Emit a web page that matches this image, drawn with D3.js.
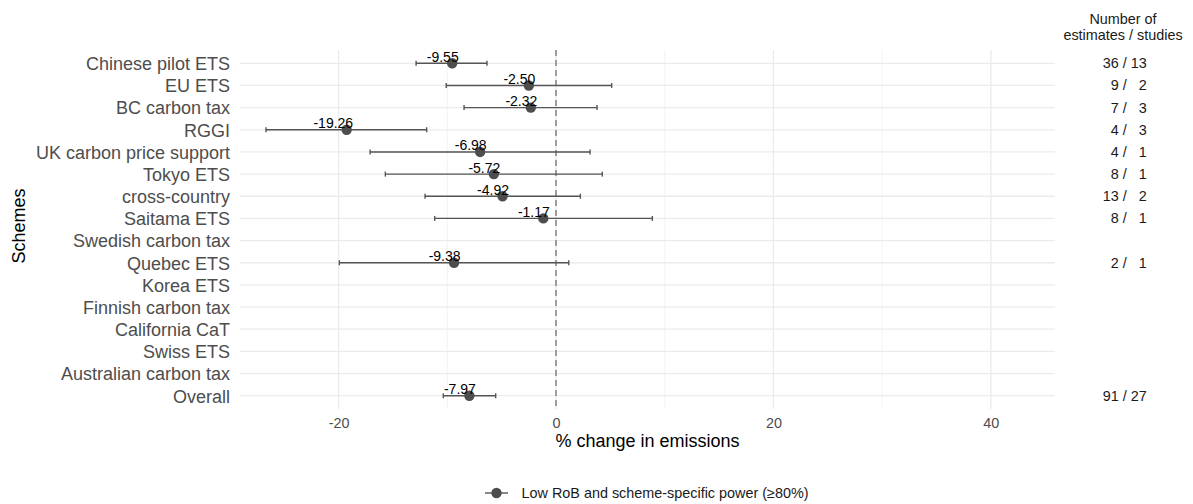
<!DOCTYPE html>
<html>
<head>
<meta charset="utf-8">
<script src="https://cdn.jsdelivr.net/npm/d3@7"></script>
<style>
  body { margin: 0; background: #fff; }
  svg { font-family: "Liberation Sans", Arial, sans-serif; }
</style>
</head>
<body>
<script>
// schemes, top to bottom
var schemes = ["Chinese pilot ETS", "EU ETS", "BC carbon tax", "RGGI", "UK carbon price support",
    "Tokyo ETS", "cross-country", "Saitama ETS", "Swedish carbon tax", "Quebec ETS", "Korea ETS",
    "Finnish carbon tax", "California CaT", "Swiss ETS", "Australian carbon tax", "Overall"];

// point estimates and interval bounds (% change)
var estimates = [-9.55, -2.50, -2.32, -19.26, -6.98, -5.72, -4.92, -1.17, null, -9.38, null, null, null, null, null, -7.97];
var lower = [-12.87, -10.1, -8.46, -26.68, -17.1, -15.7, -12.05, -11.16, null, -19.93, null, null, null, null, null, -10.37];
var upper = [-6.35, 5.12, 3.77, -11.9, 3.13, 4.26, 2.24, 8.86, null, 1.17, null, null, null, null, null, -5.55];

// number of estimates / studies
var nEstimates = [36, 9, 7, 4, 4, 8, 13, 8, null, 2, null, null, null, null, null, 91];
var nStudies = [13, 2, 3, 3, 1, 1, 2, 1, null, 1, null, null, null, null, null, 27];

var xTicks = [-20, 0, 20, 40];
var xMinor = [-10, 10, 30];

var w = 1193, h = 504;
var panel = {left: 240, right: 1055, top: 50, bottom: 409};
var small = "14.4px", big = "18px";

var data = schemes.map(function(s, i){
    return {scheme: s, est: estimates[i], lo: lower[i], hi: upper[i], ne: nEstimates[i], ns: nStudies[i]};
});

var svg = d3.select("body").append("svg")
    .attr("width", w)
    .attr("height", h);

// scales
var xScale = d3.scaleLinear().domain([-29.07, 45.9]).range([panel.left, panel.right]);
var yScale = d3.scalePoint().domain(schemes).range([panel.top, panel.bottom]).padding(0.6);

var grid = svg.append("g");

// minor gridlines
grid.selectAll("line.minor")
    .data(xMinor)
    .enter().append("line")
    .attr("x1", function(d){ return xScale(d); })
    .attr("x2", function(d){ return xScale(d); })
    .attr("y1", panel.top).attr("y2", panel.bottom)
    .attr("stroke", "#f0f0f0").attr("stroke-width", 0.8);

// major gridlines
grid.selectAll("line.vmajor")
    .data(xTicks)
    .enter().append("line")
    .attr("x1", function(d){ return xScale(d); })
    .attr("x2", function(d){ return xScale(d); })
    .attr("y1", panel.top).attr("y2", panel.bottom)
    .attr("stroke", "#ebebeb").attr("stroke-width", 1.3);

grid.selectAll("line.hmajor")
    .data(schemes)
    .enter().append("line")
    .attr("x1", panel.left).attr("x2", panel.right)
    .attr("y1", function(d){ return yScale(d); })
    .attr("y2", function(d){ return yScale(d); })
    .attr("stroke", "#ebebeb").attr("stroke-width", 1.3);

// zero reference line
svg.append("line")
    .attr("x1", xScale(0)).attr("x2", xScale(0))
    .attr("y1", panel.top).attr("y2", panel.bottom)
    .attr("stroke", "#7a7a7a").attr("stroke-width", 1.4)
    .attr("stroke-dasharray", "6,4");

// y axis labels
var yAxis = d3.axisLeft(yScale).tickSize(0).tickPadding(10);
var gy = svg.append("g")
    .attr("transform", "translate(" + panel.left + ",0)")
    .call(yAxis);
gy.select(".domain").remove();
gy.selectAll("text")
    .attr("dy", "0.35em")
    .attr("font-size", big)
    .attr("fill", "#4d4d4d")
    .attr("font-family", "Liberation Sans, Arial, sans-serif");

// x axis labels
var xAxis = d3.axisBottom(xScale).tickValues(xTicks).tickSize(0).tickPadding(8)
    .tickFormat(function(d){ return String(d); });
var gx = svg.append("g")
    .attr("transform", "translate(0," + panel.bottom + ")")
    .call(xAxis);
gx.select(".domain").remove();
gx.selectAll("text")
    .attr("y", 19).attr("dy", 0)
    .attr("font-size", small)
    .attr("fill", "#4d4d4d")
    .attr("font-family", "Liberation Sans, Arial, sans-serif");

var withVal = data.filter(function(d){ return d.est !== null; });

// error bars
var bars = svg.append("g").selectAll("g")
    .data(withVal)
    .enter().append("g");

bars.append("line")
    .attr("x1", function(d){ return xScale(d.lo); })
    .attr("x2", function(d){ return xScale(d.hi); })
    .attr("y1", function(d){ return yScale(d.scheme); })
    .attr("y2", function(d){ return yScale(d.scheme); })
    .attr("stroke", "#555555").attr("stroke-width", 1.4);

bars.append("line")
    .attr("x1", function(d){ return xScale(d.lo); })
    .attr("x2", function(d){ return xScale(d.lo); })
    .attr("y1", function(d){ return yScale(d.scheme) - 2.5; })
    .attr("y2", function(d){ return yScale(d.scheme) + 2.5; })
    .attr("stroke", "#555555").attr("stroke-width", 1.4);

bars.append("line")
    .attr("x1", function(d){ return xScale(d.hi); })
    .attr("x2", function(d){ return xScale(d.hi); })
    .attr("y1", function(d){ return yScale(d.scheme) - 2.5; })
    .attr("y2", function(d){ return yScale(d.scheme) + 2.5; })
    .attr("stroke", "#555555").attr("stroke-width", 1.4);

// points
bars.append("circle")
    .attr("cx", function(d){ return xScale(d.est); })
    .attr("cy", function(d){ return yScale(d.scheme); })
    .attr("r", 5.2)
    .attr("fill", "#4d4d4d");

// value labels
bars.append("text")
    .attr("x", function(d){ return xScale(d.est) + 6.5; })
    .attr("y", function(d){ return yScale(d.scheme) - 1.5; })
    .attr("text-anchor", "end")
    .attr("font-size", "14px")
    .attr("fill", "#000")
    .text(function(d){ return d.est.toFixed(2); });

// counts column
var colX = 1123;
svg.append("text")
    .attr("x", colX).attr("y", 24)
    .attr("text-anchor", "middle")
    .attr("font-size", small).attr("fill", "#1a1a1a")
    .text("Number of");
svg.append("text")
    .attr("x", colX).attr("y", 40)
    .attr("text-anchor", "middle")
    .attr("font-size", small).attr("fill", "#1a1a1a")
    .text("estimates / studies");

var slashX = 1124.7;
var counts = svg.append("g").selectAll("g")
    .data(data.filter(function(d){ return d.ne !== null; }))
    .enter().append("g")
    .attr("transform", function(d){ return "translate(" + slashX + "," + (yScale(d.scheme) + 5) + ")"; });

counts.append("text")
    .attr("x", -6).attr("text-anchor", "end")
    .attr("font-size", small).attr("fill", "#1a1a1a")
    .text(function(d){ return d.ne; });
counts.append("text")
    .attr("x", 0).attr("text-anchor", "middle")
    .attr("font-size", small).attr("fill", "#1a1a1a")
    .text("/");
counts.append("text")
    .attr("x", 22).attr("text-anchor", "end")
    .attr("font-size", small).attr("fill", "#1a1a1a")
    .text(function(d){ return d.ns; });

// axis titles
svg.append("text")
    .attr("x", (panel.left + panel.right) / 2)
    .attr("y", 447)
    .attr("text-anchor", "middle")
    .attr("font-size", big).attr("fill", "#000")
    .text("% change in emissions");

svg.append("text")
    .attr("transform", "translate(25,226) rotate(-90)")
    .attr("text-anchor", "middle")
    .attr("font-size", big).attr("fill", "#000")
    .text("Schemes");

// legend
var lg = svg.append("g").attr("transform", "translate(496.5,493)");
lg.append("line").attr("x1", -11.5).attr("x2", 11.5).attr("y1", 0).attr("y2", 0)
    .attr("stroke", "#555555").attr("stroke-width", 1.4);
lg.append("circle").attr("r", 5.2).attr("fill", "#4d4d4d");
lg.append("text")
    .attr("x", 25).attr("y", 5)
    .attr("font-size", small).attr("fill", "#1a1a1a")
    .text("Low RoB and scheme-specific power (\u226580%)");
</script>
</body>
</html>
